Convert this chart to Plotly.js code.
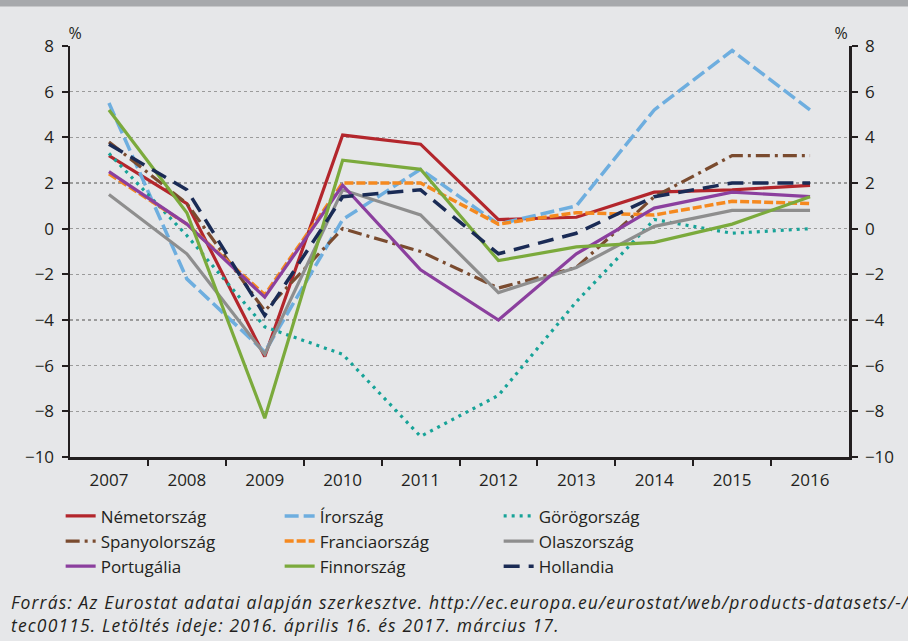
<!DOCTYPE html>
<html>
<head>
<meta charset="utf-8">
<script src="https://cdn.plot.ly/plotly-3.0.1.min.js"></script>
<style>html,body{margin:0;padding:0;background:#E6E7E9;}#chart{width:908px;height:641px;}
#chart .annotation-text{letter-spacing:1.15px;}</style>
</head>
<body>
<div id="chart"></div>
<script>
const years = [2007, 2008, 2009, 2010, 2011, 2012, 2013, 2014, 2015, 2016];
const nemetorszag   = [3.2, 1.1, -5.6, 4.1, 3.7, 0.4, 0.5, 1.6, 1.7, 1.9];
const irorszag      = [5.5, -2.2, -5.4, 0.4, 2.6, 0.2, 1.0, 5.2, 7.8, 5.2];
const gorogorszag   = [3.3, -0.3, -4.3, -5.5, -9.1, -7.3, -3.2, 0.4, -0.2, 0.0];
const spanyolorszag = [3.8, 1.1, -3.6, 0.0, -1.0, -2.6, -1.7, 1.4, 3.2, 3.2];
const franciaorszag = [2.4, 0.2, -2.9, 2.0, 2.0, 0.2, 0.7, 0.6, 1.2, 1.1];
const olaszorszag   = [1.5, -1.1, -5.5, 1.7, 0.6, -2.8, -1.7, 0.1, 0.8, 0.8];
const portugalia    = [2.5, 0.2, -3.0, 1.9, -1.8, -4.0, -1.1, 0.9, 1.6, 1.4];
const finnorszag    = [5.2, 0.7, -8.3, 3.0, 2.6, -1.4, -0.8, -0.6, 0.2, 1.4];
const hollandia     = [3.7, 1.7, -3.8, 1.4, 1.7, -1.1, -0.2, 1.4, 2.0, 2.0];
const yTicks = [-10, -8, -6, -4, -2, 0, 2, 4, 6, 8];
const yTickText = ['\u221210', '\u22128', '\u22126', '\u22124', '\u22122', '0', '2', '4', '6', '8'];
const sourceText = '<i>Forrás: Az Eurostat adatai alapján szerkesztve. http://ec.europa.eu/eurostat/web/products-datasets/-/<br>tec00115. Letöltés ideje: 2016. április 16. és 2017. március 17.</i>';

const FONT = '"Open Sans", Lato, sans-serif';
function tr(name, y, color, dash, width) {
  return {x: years, y: y, name: name, type: 'scatter', mode: 'lines',
          line: {color: color, width: width || 3, dash: dash || 'solid'}};
}
const traces = [
  tr('Németország', nemetorszag, '#B3262C', 'solid', 3.2),
  tr('Írország', irorszag, '#6EAEDF', '14px,5px', 3.5),
  tr('Görögország', gorogorszag, '#17A398', '3px,5px', 3.2),
  tr('Spanyolország', spanyolorszag, '#7A4B2F', '14px,5px,3px,5px', 3.2),
  tr('Franciaország', franciaorszag, '#F5891F', '9px,3px', 3.5),
  tr('Olaszország', olaszorszag, '#8E8E8E', 'solid', 3.2),
  tr('Portugália', portugalia, '#8B3F9E', 'solid', 3.2),
  tr('Finnország', finnorszag, '#7BAA3C', 'solid', 3.2),
  tr('Hollandia', hollandia, '#1A2B55', '16px,9px', 3.5)
];
traces.push({x: years, y: nemetorszag, yaxis: 'y2', type: 'scatter', mode: 'lines',
             line: {width: 0}, showlegend: false, hoverinfo: 'skip'});

const yCommon = {
  range: [-10, 8], tickvals: yTicks, ticktext: yTickText,
  ticks: 'outside', ticklen: 6, tickwidth: 2, tickcolor: '#231F20',
  showline: true, linecolor: '#231F20', linewidth: 2.5, ticklabelstandoff: 4,
  zeroline: false, tickfont: {family: FONT, size: 17, color: '#231F20'}, fixedrange: true
};

const layout = {
  width: 908, height: 641,
  paper_bgcolor: '#E6E7E9', plot_bgcolor: '#E6E7E9',
  margin: {l: 70, r: 59, t: 46, b: 184},
  showlegend: true,
  font: {family: FONT, color: '#231F20'},
  xaxis: {
    range: [2006.5, 2016.5], tickvals: years, ticktext: years.map(String),
    ticks: '', showgrid: false, zeroline: false,
    showline: true, linecolor: '#231F20', linewidth: 2.5, ticklabelstandoff: 6,
    tickfont: {family: FONT, size: 17, color: '#231F20'},
    minor: {tickvals: [2007.5, 2008.5, 2009.5, 2010.5, 2011.5, 2012.5, 2013.5, 2014.5, 2015.5], ticks: 'outside', ticklen: 6, tickwidth: 2, tickcolor: '#231F20', showgrid: false},
    fixedrange: true
  },
  yaxis: Object.assign({}, yCommon, {side: 'left', showgrid: true, gridcolor: '#9B9B9B', griddash: 'dot', gridwidth: 1.5}),
  yaxis2: Object.assign({}, yCommon, {side: 'right', overlaying: 'y', showgrid: false}),
  legend: {
    orientation: 'h', x: -0.012, xanchor: 'left', y: -0.1007, yanchor: 'top',
    entrywidth: 174, entrywidthmode: 'pixels', traceorder: 'normal',
    font: {family: FONT, size: 17, color: '#231F20'}, bgcolor: 'rgba(0,0,0,0)', itemwidth: 30
  },
  shapes: [{type: 'rect', xref: 'paper', yref: 'paper', x0: -0.1, x1: 1.1, y0: 1.096, y1: 1.2,
            fillcolor: '#A7A9AC', line: {width: 0}, layer: 'above'}],
  annotations: [
    {xref: 'paper', yref: 'paper', x: 0.0077, y: 1.0, xanchor: 'center', yanchor: 'bottom',
     text: '%', showarrow: false, font: {family: FONT, size: 16, color: '#231F20'}},
    {xref: 'paper', yref: 'paper', x: 0.991, y: 1.0, xanchor: 'center', yanchor: 'bottom',
     text: '%', showarrow: false, font: {family: FONT, size: 16, color: '#231F20'}},
    {xref: 'paper', yref: 'paper', x: -0.078, y: -0.3815, xanchor: 'left', yanchor: 'middle', align: 'left',
     text: sourceText, showarrow: false, font: {family: FONT, size: 17.5, color: '#231F20'}}
  ]
};
Plotly.newPlot('chart', traces, layout, {displayModeBar: false, staticPlot: true});
</script>
</body>
</html>
